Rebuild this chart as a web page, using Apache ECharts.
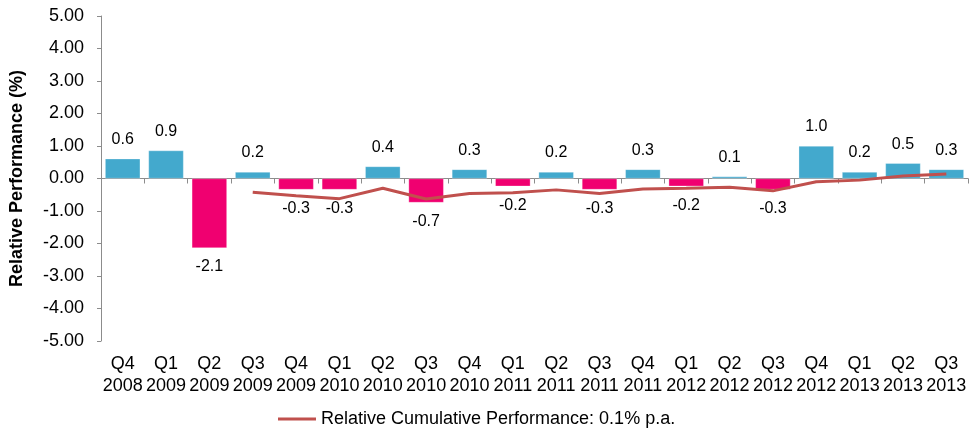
<!DOCTYPE html>
<html><head><meta charset="utf-8">
<script src="https://cdn.jsdelivr.net/npm/echarts@6/dist/echarts.min.js"></script>
<style>html,body{margin:0;padding:0;background:#fff}#c{width:971px;height:429px}</style>
</head><body><div id="c"></div>
<script>
var quarters = ["Q4","Q1","Q2","Q3","Q4","Q1","Q2","Q3","Q4","Q1","Q2","Q3","Q4","Q1","Q2","Q3","Q4","Q1","Q2","Q3"];
var years = ["2008","2009","2009","2009","2009","2010","2010","2010","2010","2011","2011","2011","2011","2012","2012","2012","2012","2013","2013","2013"];
var relativePerformance = [0.61,0.86,-2.14,0.2,-0.34,-0.34,0.37,-0.74,0.28,-0.24,0.2,-0.34,0.28,-0.24,0.06,-0.34,1.0,0.2,0.47,0.28];
var cumulativePerformance = [null,null,null,-0.42,-0.53,-0.62,-0.30,-0.63,-0.46,-0.44,-0.35,-0.46,-0.32,-0.30,-0.27,-0.38,-0.10,-0.05,0.08,0.14];
var yTicks = {min:-5, max:5, interval:1};
var legendName = "Relative Cumulative Performance: 0.1% p.a.";

var categories = quarters.map(function(q,i){return q+"\n"+years[i];});
var FONT = "Liberation Sans, Arial, sans-serif";
var barData = relativePerformance.map(function(v){
  return {value:v, itemStyle:{color: v<0 ? "#F00070" : "#43A9CD"},
          label:{position: v<0 ? "bottom" : "top"}};
});

var chart = echarts.init(document.getElementById("c"));
chart.setOption({
  animation:false,
  grid:{left:100,right:3,top:16,bottom:88,containLabel:false},
  legend:{data:[legendName],left:273,top:405,itemWidth:38,itemHeight:3,itemGap:6,icon:"rect",
    textStyle:{fontFamily:FONT,fontSize:18,color:"#000"}},
  xAxis:[{
    type:"category",data:categories,
    axisLine:{onZero:true,lineStyle:{color:"#8c8c8c",width:1}},
    axisTick:{show:true,inside:false,length:5,lineStyle:{color:"#8c8c8c"}},
    axisLabel:{show:false}
  },{
    type:"category",data:categories,position:"bottom",
    axisLine:{show:false},axisTick:{show:false},
    axisLabel:{interval:0,fontFamily:FONT,fontSize:18,color:"#000",lineHeight:22,margin:12}
  }],
  yAxis:{
    type:"value",min:yTicks.min,max:yTicks.max,interval:yTicks.interval,
    name:"Relative Performance (%)",nameLocation:"middle",nameGap:75,
    nameTextStyle:{fontFamily:FONT,fontSize:18,fontWeight:"bold",color:"#000"},
    axisLine:{show:true,lineStyle:{color:"#8c8c8c"}},
    axisTick:{show:true,length:4,lineStyle:{color:"#8c8c8c"}},
    splitLine:{show:false},
    axisLabel:{fontFamily:FONT,fontSize:18,color:"#000",margin:17,
      formatter:function(v){return v.toFixed(2);}}
  },
  series:[{
    type:"bar",data:barData,barCategoryGap:"19%",xAxisIndex:0,
    itemStyle:{borderColor:"rgba(255,255,255,0.6)",borderWidth:0.5},
    label:{show:true,distance:11,fontFamily:FONT,fontSize:16,color:"#000",
      formatter:function(p){return p.value.toFixed(1);}}
  },{
    type:"line",name:legendName,data:cumulativePerformance,xAxisIndex:0,
    symbol:"none",lineStyle:{color:"#C0504D",width:3},itemStyle:{color:"#C0504D"}
  }]
});
</script></body></html>
